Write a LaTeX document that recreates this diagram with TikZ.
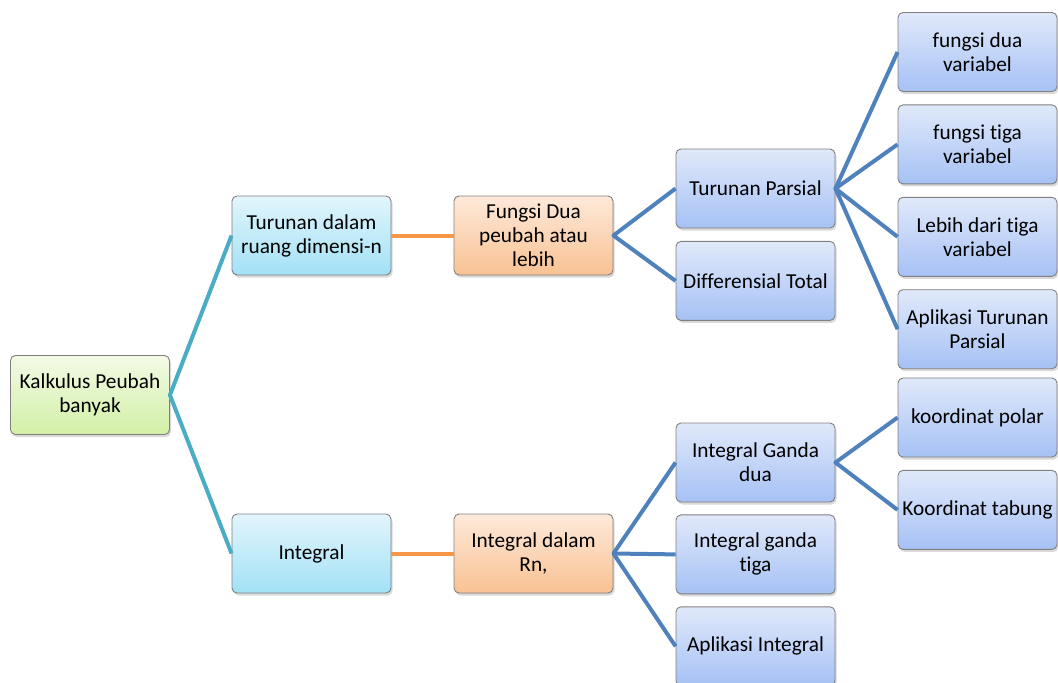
\documentclass[tikz,border=0pt]{standalone}
\usepackage{fontspec}
\setmainfont{Carlito}[Ligatures=NoCommon]
\usepackage{xcolor}
\usetikzlibrary{positioning,shadows}
\definecolor{rimgray}{HTML}{808080}
\definecolor{greentop}{HTML}{F3FAE6}
\definecolor{greenbot}{HTML}{D2F0A6}
\definecolor{cyantop}{HTML}{E2F5FC}
\definecolor{cyanbot}{HTML}{A2E1F6}
\definecolor{orangetop}{HTML}{FDE9DA}
\definecolor{orangebot}{HTML}{F9C293}
\definecolor{bluetop}{HTML}{E0E9FA}
\definecolor{bluebot}{HTML}{A6C1F5}
\definecolor{tealline}{HTML}{4BACC6}
\definecolor{orangeline}{HTML}{F79646}
\definecolor{blueline}{HTML}{4F81BD}
\tikzset{
  box/.style={rounded corners=5pt, draw=rimgray, line width=0.9pt, minimum width=159pt, minimum height=79pt, inner sep=2pt, align=center, font=\fontsize{21.3}{24}\selectfont, drop shadow={shadow xshift=1.5pt, shadow yshift=-2.5pt, opacity=0.3}},
  rootbox/.style={box, top color=greentop, bottom color=greenbot},
  cyanbox/.style={box, top color=cyantop, bottom color=cyanbot},
  orangebox/.style={box, top color=orangetop, bottom color=orangebot},
  bluebox/.style={box, top color=bluetop, bottom color=bluebot},
  tealarm/.style={line width=4pt, draw=tealline, line join=round},
  orangearm/.style={line width=4pt, draw=orangeline},
  bluearm/.style={line width=4pt, draw=blueline, line join=round}
}
\begin{document}
\begin{tikzpicture}[x=1pt, y=-1pt]
  \useasboundingbox (0,0) rectangle (1058,683);
  \node[rootbox] (kalkulus) at (90,395) {Kalkulus Peubah\\banyak};
  \node[cyanbox] (turunan) at (311.5,235.5) {Turunan dalam\\ruang dimensi-n};
  \node[cyanbox] (integral) at (311.5,553.5) {Integral};
  \node[orangebox] (fungsi) at (533.5,235.5) {Fungsi Dua\\peubah atau\\lebih};
  \node[orangebox] (intrn) at (533.5,553.5) {Integral dalam\\Rn,};

  \node[bluebox] (parsial) at (755.5,188.5) {Turunan Parsial};
  \node[bluebox, below=12.5pt of parsial] (difftotal) {Differensial Total};
  \node[bluebox] (ganda2) at (755.5,462.5) {Integral Ganda\\dua};
  \node[bluebox, below=12pt of ganda2] (ganda3) {Integral ganda\\tiga};
  \node[bluebox, below=12pt of ganda3] (aplint) {Aplikasi Integral};

  \node[bluebox] (f2var) at (977.5,52) {fungsi dua\\variabel};
  \node[bluebox, below=12.5pt of f2var] (f3var) {fungsi tiga\\variabel};
  \node[bluebox, below=12.5pt of f3var] (lebih) {Lebih dari tiga\\variabel};
  \node[bluebox, below=12.5pt of lebih] (aplturunan) {Aplikasi Turunan\\Parsial};
  \node[bluebox] (polar) at (977.5,417.5) {koordinat polar};
  \node[bluebox, below=12.5pt of polar] (tabung) {Koordinat tabung};

  \draw[tealarm] (turunan.west) -- (kalkulus.east) -- (integral.west);
  \draw[orangearm] (turunan) -- (fungsi);
  \draw[orangearm] (integral) -- (intrn);
  \draw[bluearm] (parsial.west) -- (fungsi.east) -- (difftotal.west);
  \draw[bluearm] (ganda2.west) -- (intrn.east) -- (aplint.west);
  \draw[bluearm] (intrn.east) -- (ganda3.west);
  \draw[bluearm] (f2var.west) -- (parsial.east) -- (aplturunan.west);
  \draw[bluearm] (f3var.west) -- (parsial.east) -- (lebih.west);
  \draw[bluearm] (polar.west) -- (ganda2.east) -- (tabung.west);
\end{tikzpicture}
\end{document}
